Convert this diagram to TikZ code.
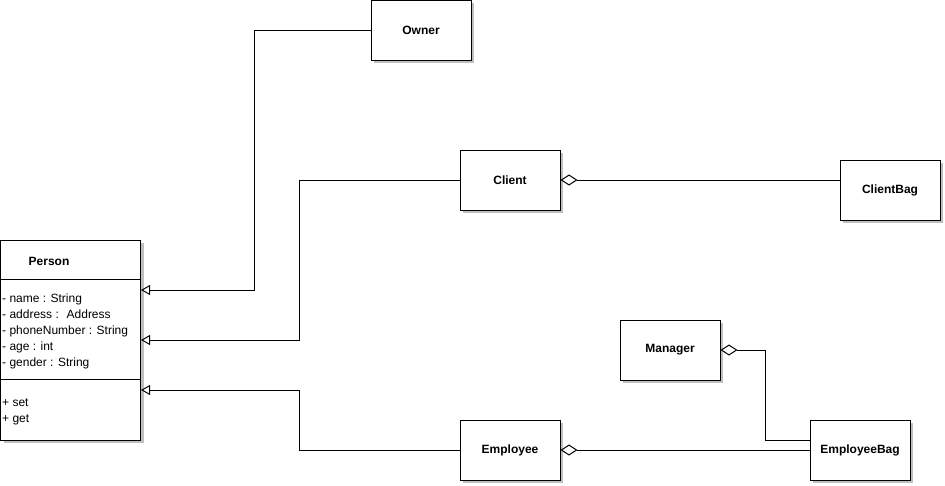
\documentclass[tikz,border=0pt]{standalone}
\usepackage{fontspec}
\setmainfont{Liberation Sans}
\usetikzlibrary{arrows.meta,shadows}
\begin{document}
\begin{tikzpicture}[x=1pt,y=-1pt,
  shade box/.style={drop shadow={shadow xshift=3pt,shadow yshift=-3pt,fill=black!25,opacity=1}},
  cls/.style={draw=black,fill=white,line width=1pt,inner sep=0pt,shade box,
    minimum width=100pt,minimum height=60pt,font=\fontsize{12}{14}\selectfont\bfseries},
  member/.style={anchor=west,inner sep=0pt,text height=8.5pt,text depth=2.5pt,
    font=\fontsize{12}{14}\selectfont},
  inh/.style={line width=1pt,-{Triangle[open,length=9pt,width=10pt]}},
  agg/.style={line width=1pt,{Diamond[open,length=17pt,width=11pt]}-}]
\useasboundingbox (0,0) rectangle (945,485);

% class boxes
\node[cls] (owner) at (421,30) {Owner};
\node[cls] (client) at (510,180) {Client};
\node[cls] (clientbag) at (890,190) {ClientBag};
\node[cls] (manager) at (670,350) {Manager};
\node[cls] (employee) at (510,450) {Employee};
\node[cls] (employeebag) at (860,450) {EmployeeBag};

% Person class with attribute and operation compartments
\node[cls,minimum width=140pt,minimum height=200pt] (person) at (70.5,340) {};
\draw[line width=1pt] ([yshift=-40pt]person.north west) -- ([yshift=-40pt]person.north east);
\draw[line width=1pt] ([yshift=-140pt]person.north west) -- ([yshift=-140pt]person.north east);
\node[inner sep=0pt,font=\fontsize{12}{14}\selectfont\bfseries] (ptitle) at (49,261) {Person};
\node[member] (a1) at (2,299) {- name : String};
\node[member] (a2) at (2,315) {- address : \ Address};
\node[member] (a3) at (2,331) {- phoneNumber : String};
\node[member] (a4) at (2,347) {- age : int};
\node[member] (a5) at (2,363) {- gender : String};
\node[member] (m1) at (2,403) {+ set};
\node[member] (m2) at (2,419) {+ get};

% generalisations
\draw[inh] (owner.west) -- ++(-116,0) |- ([yshift=50pt]person.east);
\draw[inh] (client.west) -- ++(-160,0) |- (person.east);
\draw[inh] (employee.west) -- ++(-160,0) |- ([yshift=-50pt]person.east);

% aggregations
\draw[agg] (client.east) -- (clientbag.west |- client.east);
\draw[agg] (employee.east) -- (employeebag.west);
\draw[agg] (manager.east) -- ++(45,0) |- ([yshift=10pt]employeebag.west);
\end{tikzpicture}
\end{document}
